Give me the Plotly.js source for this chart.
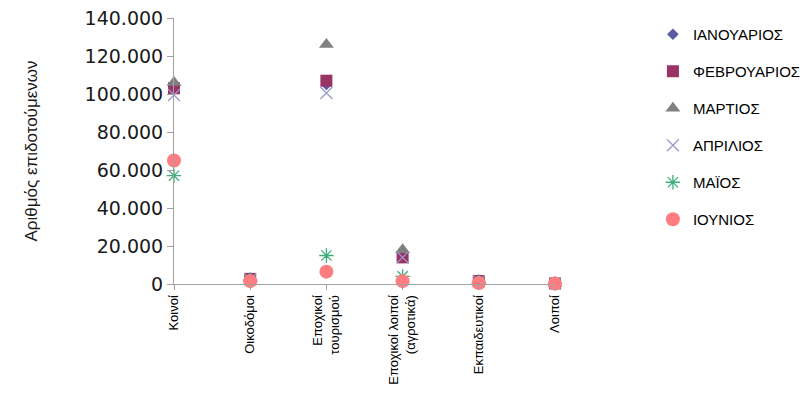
<!DOCTYPE html>
<html>
<head>
<meta charset="utf-8">
<script src="https://cdn.plot.ly/plotly-3.0.1.min.js"></script>
<style>html,body{margin:0;padding:0;background:#fff;}#chart{width:811px;height:401px;}</style>
</head>
<body>
<div id="chart"></div>
<script>
const categories = ["Κοινοί", "Οικοδόμοι", "Εποχικοί<br>τουρισμού", "Εποχικοί λοιποί<br>(αγροτικά)", "Εκπαιδευτικοί", "Λοιποί"];
const months = ["ΙΑΝΟΥΑΡΙΟΣ", "ΦΕΒΡΟΥΑΡΙΟΣ", "ΜΑΡΤΙΟΣ", "ΑΠΡΙΛΙΟΣ", "ΜΑΪΟΣ", "ΙΟΥΝΙΟΣ"];
const jan = [104000, 2800, 105000, 14000, 2000, 300];
const feb = [103000, 2700, 107000, 14000, 1600, 300];
const mar = [106000, 2900, 126000, 18000, 1600, 300];
const apr = [99500, 2500, 100500, 14000, 1500, 300];
const may = [57000, 2000, 15000, 4000, 1000, 300];
const jun = [65000, 1500, 6500, 1500, 500, 200];

const series = [jan, feb, mar, apr, may, jun];
const styles = [
  {symbol: "diamond", color: "#5A5AA0", size: 9},
  {symbol: "square", color: "#993366", size: 12},
  {symbol: "triangle-up", color: "#808080", size: 13},
  {symbol: "x-thin-open", color: "#9A9ACC", size: 12, line: {width: 1.3, color: "#9A9ACC"}},
  {symbol: "asterisk-open", color: "#3CB07A", size: 12, line: {width: 1.3, color: "#3CB07A"}},
  {symbol: "circle", color: "#FF7C80", size: 14}
];

const traces = series.map((vals, i) => {
  const s = styles[i];
  const marker = {symbol: s.symbol, color: s.color, size: s.size};
  if (s.line) marker.line = s.line;
  return {
    type: "scatter", mode: "markers", name: months[i], legendgroup: "g" + i,
    x: categories, y: vals, marker: marker, cliponaxis: false
  };
});

const layout = {
  width: 811, height: 401,
  margin: {l: 174, r: 256, t: 18, b: 117, autoexpand: false},
  paper_bgcolor: "#fff", plot_bgcolor: "#fff",
  separators: ",.",
  font: {family: "Liberation Sans Narrow, Liberation Sans, sans-serif", color: "#000"},
  xaxis: {
    type: "category", categoryorder: "array", categoryarray: categories,
    range: [0, 5], showgrid: false, zeroline: false,
    showline: true, linecolor: "#A0A0A0", linewidth: 1,
    ticks: "outside", ticklen: 5, tickcolor: "#A0A0A0",
    tickangle: -90, tickfont: {family: "Liberation Sans Narrow, sans-serif", size: 13, color: "#000"}
  },
  yaxis: {
    range: [0, 140000], dtick: 20000, tickformat: ",d",
    showgrid: false, zeroline: false,
    showline: true, linecolor: "#A0A0A0", linewidth: 1,
    ticks: "outside", ticklen: 6, tickcolor: "#A0A0A0",
    tickfont: {family: "DejaVu Sans, sans-serif", size: 19, color: "#1a1a1a"},
    title: {text: "Αριθμός επιδοτούμενων", font: {family: "Liberation Sans Narrow, sans-serif", size: 17, color: "#1a1a1a"}, standoff: 42}
  },
  legend: {
    x: 1.257, xanchor: "left", y: 1.0, yanchor: "top",
    traceorder: "grouped", tracegroupgap: 14.5, maxheight: 1,
    font: {family: "Liberation Sans, sans-serif", size: 15, color: "#000"},
    bgcolor: "rgba(0,0,0,0)"
  },
  showlegend: true
};

Plotly.newPlot("chart", traces, layout, {displayModeBar: false, staticPlot: true});
</script>
</body>
</html>
